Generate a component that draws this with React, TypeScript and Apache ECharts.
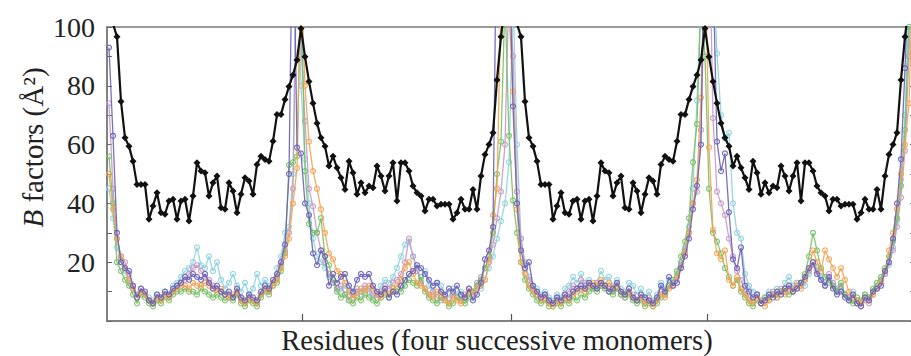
import React, { useEffect, useRef } from "react";
import * as echarts from "echarts";

// Black (crystal) B factors: two chain profiles, shown twice (four successive monomers)
const blackChainA = [120, 101, 96.7, 74.7, 62.3, 59.4, 54.3, 46.4, 46.4, 46.4, 34.6, 39.1, 43.6, 36.8, 36.3, 40.8, 41.4, 34.6, 40.8, 41.4, 34.0, 42.5, 53.8, 51.0, 50.4, 42.5, 47.0, 49.3, 38.5, 38.0, 47.0, 44.2, 36.8, 43.1, 48.7, 47.6, 43.1, 53.2, 56.0, 54.9, 54.3, 61.1, 70.2, 70.2, 75.3, 79.8, 83.7, 88.8, 99.5];
const blackChainB = [89.9, 81.5, 74.1, 67.3, 62.3, 59.4, 52.7, 56.0, 52.1, 48.7, 44.7, 54.3, 50.4, 43.1, 47.0, 43.6, 45.9, 45.3, 52.7, 49.3, 44.2, 49.3, 53.8, 40.8, 53.8, 53.8, 51.0, 45.9, 43.6, 42.5, 37.4, 41.4, 41.4, 39.1, 39.7, 39.7, 39.7, 34.6, 36.8, 41.4, 38.0, 38.0, 44.7, 38.0, 49.3, 56.6, 60.0, 64.0, 82.0, 96.7, 108, 112];
const blackValues = [...blackChainA, ...blackChainB, ...blackChainA, ...blackChainB];

const purpleValues = [
  93, 63, 30, 20, 18, 17, 12, 8, 11, 10, 7, 6, 9, 8, 10, 9, 11, 12, 13, 15, 14, 16, 15, 14, 16, 13, 11, 12, 10, 9, 10, 8, 11, 8, 7, 9, 8, 7, 10, 12, 11, 14, 16, 20, 26, 50, 150, 59, 57,
  40, 36, 23, 19, 24, 22, 12, 16, 13, 15, 16, 12, 10, 14, 16, 15, 16, 12, 10, 9, 11, 8, 10, 9, 12, 14, 16, 17, 19, 18, 16, 14, 12, 13, 10, 9, 11, 10, 12, 9, 8, 11, 7, 9, 13, 21, 24, 32, 150, 170, 160, 130, 73,
  40, 24, 18, 20, 12, 10, 8, 9, 7, 6, 8, 7, 9, 8, 10, 11, 12, 11, 13, 12, 11, 13, 12, 10, 11, 13, 10, 9, 11, 8, 7, 9, 8, 7, 6, 8, 12, 10, 15, 12, 13, 18, 22, 28, 38, 46, 60, 150,
  160, 120, 61, 51, 57, 37, 21, 18, 25, 12, 10, 8, 9, 6, 7, 9, 8, 10, 9, 11, 12, 10, 11, 13, 15, 18, 20, 16, 14, 12, 15, 11, 9, 10, 8, 7, 9, 6, 5, 8, 7, 10, 11, 12, 17, 20, 28, 40, 55, 86, 120, 150,
];
const cyanValues = [
  45, 35, 25, 21, 17, 13, 11, 9, 10, 9, 8, 7, 9, 8, 10, 9, 12, 13, 15, 17, 18, 20, 25, 19, 18, 22, 17, 20, 14, 11, 13, 16, 12, 10, 13, 9, 11, 16, 12, 14, 12, 13, 18, 22, 30, 32, 50, 140, 80,
  55, 40, 28, 22, 20, 18, 15, 13, 11, 10, 12, 9, 8, 10, 9, 11, 10, 8, 9, 12, 14, 13, 15, 18, 22, 26, 27, 22, 18, 14, 17, 12, 10, 13, 12, 9, 8, 11, 9, 10, 7, 9, 8, 12, 11, 14, 18, 22, 28, 34, 40, 54, 110,
  60, 28, 20, 15, 12, 11, 9, 10, 8, 7, 9, 8, 11, 12, 15, 13, 16, 12, 14, 12, 13, 17, 14, 15, 12, 14, 11, 10, 13, 12, 9, 11, 8, 10, 7, 9, 13, 11, 14, 13, 16, 20, 25, 32, 45, 75, 110, 130,
  140, 120, 91, 70, 62, 64, 40, 30, 28, 16, 12, 10, 9, 7, 8, 10, 9, 11, 10, 13, 15, 12, 11, 13, 12, 16, 20, 18, 15, 13, 14, 12, 10, 11, 9, 8, 10, 7, 6, 9, 8, 10, 12, 14, 16, 19, 25, 34, 48, 70, 110, 140,
];
const orangeValues = [
  50, 38, 28, 22, 18, 14, 11, 8, 10, 9, 7, 6, 8, 7, 9, 8, 10, 11, 12, 12, 11, 13, 12, 12, 13, 12, 11, 10, 11, 9, 8, 9, 10, 7, 6, 8, 7, 6, 9, 11, 10, 12, 14, 18, 22, 28, 40, 52, 120,
  80, 61, 51, 45, 38, 30, 23, 21, 17, 16, 13, 10, 8, 9, 11, 10, 12, 11, 9, 8, 10, 9, 11, 12, 14, 18, 20, 16, 13, 12, 11, 9, 8, 10, 9, 7, 6, 8, 7, 6, 8, 10, 9, 11, 12, 14, 20, 36, 45, 110, 130, 105, 78,
  38, 20, 16, 12, 10, 9, 7, 8, 6, 5, 7, 6, 8, 7, 9, 10, 11, 10, 12, 13, 12, 14, 12, 13, 11, 12, 10, 9, 10, 8, 7, 8, 6, 7, 5, 7, 9, 8, 11, 12, 15, 18, 23, 30, 40, 48, 76, 130,
  59, 31, 23, 21, 24, 14, 12, 15, 11, 9, 7, 6, 8, 7, 5, 7, 9, 8, 10, 9, 11, 10, 12, 11, 14, 18, 24, 20, 17, 24, 21, 18, 15, 18, 14, 10, 8, 7, 6, 8, 7, 9, 11, 13, 17, 24, 30, 38, 50, 60, 74, 120,
];
const greenValues = [
  56, 40, 20, 17, 14, 12, 9, 6, 9, 8, 6, 5, 7, 6, 8, 7, 9, 10, 10, 11, 10, 10, 9, 11, 10, 9, 8, 9, 8, 7, 8, 7, 9, 6, 5, 7, 6, 5, 8, 10, 9, 12, 13, 17, 23, 53, 54, 56, 115,
  51, 33, 30, 30, 35, 22, 19, 14, 10, 8, 9, 7, 6, 8, 7, 9, 8, 7, 6, 8, 9, 8, 10, 11, 10, 12, 14, 13, 12, 15, 10, 8, 7, 6, 8, 7, 5, 6, 8, 7, 6, 8, 10, 12, 14, 18, 22, 30, 50, 61, 110, 63, 41,
  30, 20, 14, 11, 9, 7, 6, 7, 5, 5, 6, 5, 7, 6, 8, 7, 9, 8, 10, 11, 10, 12, 11, 10, 9, 11, 9, 8, 9, 7, 6, 7, 5, 6, 5, 6, 8, 9, 12, 14, 17, 22, 27, 35, 54, 67, 110, 90,
  45, 30, 27, 23, 18, 15, 12, 14, 10, 8, 6, 5, 7, 6, 8, 7, 9, 8, 10, 11, 9, 10, 12, 13, 16, 22, 30, 24, 18, 15, 13, 12, 10, 13, 9, 7, 6, 8, 7, 9, 8, 11, 13, 15, 18, 22, 27, 35, 46, 65, 100, 130,
];
const mauveValues = [
  74, 45, 28, 22, 20, 16, 12, 9, 11, 9, 7, 6, 8, 7, 9, 8, 10, 12, 13, 14, 16, 18, 19, 17, 15, 14, 12, 11, 10, 9, 9, 8, 10, 8, 6, 8, 7, 6, 9, 11, 10, 13, 15, 19, 24, 30, 45, 130, 95,
  68, 45, 39, 30, 24, 20, 16, 13, 11, 12, 9, 7, 9, 11, 10, 12, 11, 9, 8, 10, 12, 11, 13, 14, 16, 20, 28, 22, 17, 13, 11, 9, 10, 8, 7, 8, 6, 9, 8, 7, 9, 11, 10, 13, 15, 18, 21, 26, 35, 44, 60, 115, 90,
  44, 28, 19, 14, 11, 9, 8, 9, 7, 6, 8, 7, 9, 10, 12, 11, 14, 13, 12, 11, 13, 12, 11, 12, 10, 11, 9, 8, 10, 9, 7, 8, 6, 8, 6, 7, 10, 9, 12, 13, 15, 19, 24, 30, 40, 44, 65, 120,
  140, 69, 44, 40, 36, 28, 22, 17, 14, 10, 8, 7, 9, 6, 7, 8, 10, 9, 11, 10, 12, 11, 13, 12, 14, 17, 19, 17, 14, 12, 16, 13, 11, 12, 9, 8, 7, 6, 5, 7, 6, 9, 11, 14, 16, 20, 24, 32, 42, 58, 90, 125,
];

const monomerBoundaries = [48.75, 101, 150];
const yTicks = [20, 40, 60, 80, 100];

const SERIF = "'Liberation Serif', 'Times New Roman', serif";
const AXIS_COLOR = "#7a7a7a";

const toPoints = (vals: number[]) => vals.map((v, i) => [i + 0.5, v]);

const coloredSeries = [
  { name: "run cyan", values: cyanValues, color: "#8fd2de" },
  { name: "run mauve", values: mauveValues, color: "#c39ac6" },
  { name: "run green", values: greenValues, color: "#77c065" },
  { name: "run orange", values: orangeValues, color: "#f2a353" },
  { name: "run purple", values: purpleValues, color: "#6a60b6" },
];

export default function App() {
  const ref = useRef<HTMLDivElement>(null);
  useEffect(() => {
    const chart = echarts.init(ref.current!, null, { renderer: "svg" });
    const series: any[] = coloredSeries.map((s, k) => ({
      name: s.name,
      type: "line",
      data: toPoints(s.values),
      symbol: "circle",
      symbolSize: 5,
      showSymbol: true,
      lineStyle: { color: s.color, width: 1.3, opacity: 0.9 },
      itemStyle: { color: "rgba(255,255,255,0)", borderColor: s.color, borderWidth: 1.2, opacity: 0.9 },
      z: 2 + k,
      clip: true,
    }));
    series.push({
      name: "X-ray",
      type: "line",
      data: toPoints(blackValues),
      symbol: "diamond",
      symbolSize: 7,
      lineStyle: { color: "#111", width: 2.2 },
      itemStyle: { color: "#111" },
      z: 20,
      clip: true,
    });
    chart.setOption({
      animation: false,
      backgroundColor: "#fff",
      grid: {
        left: 107, top: 27, right: 5, bottom: 35,
        show: true, borderColor: AXIS_COLOR, borderWidth: 1.5, backgroundColor: "transparent",
      },
      xAxis: {
        type: "value", min: 0, max: 202,
        axisLine: { show: true, lineStyle: { color: AXIS_COLOR, width: 1.5 } },
        axisTick: { show: true, inside: true, length: 7, customValues: monomerBoundaries, lineStyle: { color: "#555", width: 1.2 } },
        axisLabel: { show: false },
        splitLine: { show: false },
      },
      yAxis: [
        {
          type: "value", min: 0, max: 100, interval: 20,
          axisLine: { show: true, lineStyle: { color: AXIS_COLOR, width: 1.5 } },
          axisTick: { show: true, inside: true, length: 5, lineStyle: { color: "#666" } },
          minorTick: { show: true, splitNumber: 2, length: 5, lineStyle: { color: "#666" } },
          axisLabel: {
            fontFamily: SERIF, fontSize: 28, color: "#222", margin: 12,
            customValues: yTicks,
          },
          splitLine: { show: false },
        },
        {
          type: "value", position: "right", min: 0, max: 100, interval: 20,
          axisLine: { show: true, lineStyle: { color: AXIS_COLOR, width: 1.5 } },
          axisTick: { show: true, inside: true, length: 5, lineStyle: { color: "#666" } },
          minorTick: { show: true, splitNumber: 2, length: 5, lineStyle: { color: "#666" } },
          axisLabel: { show: false },
          splitLine: { show: false },
        },
      ],
      graphic: [
        {
          type: "text",
          x: 33, y: 147.5, rotation: Math.PI / 2,
          style: {
            text: "{i|B} factors (Å²)",
            font: `29px ${SERIF}`,
            fill: "#222",
            align: "center",
            verticalAlign: "middle",
            rich: { i: { fontStyle: "italic", fontSize: 29, fontFamily: SERIF, fill: "#222" } },
          },
        },
        {
          type: "text",
          x: 497, y: 340,
          style: {
            text: "Residues (four successive monomers)",
            font: `28.5px ${SERIF}`,
            fill: "#222",
            align: "center",
            verticalAlign: "middle",
          },
        },
      ],
      series,
    });
    return () => chart.dispose();
  }, []);
  return (
    <div style={{ position: "fixed", left: 0, top: 0, width: 911, height: 356, overflow: "hidden", background: "#fff" }}>
      <div ref={ref} style={{ width: 920, height: 356 }} />
    </div>
  );
}
